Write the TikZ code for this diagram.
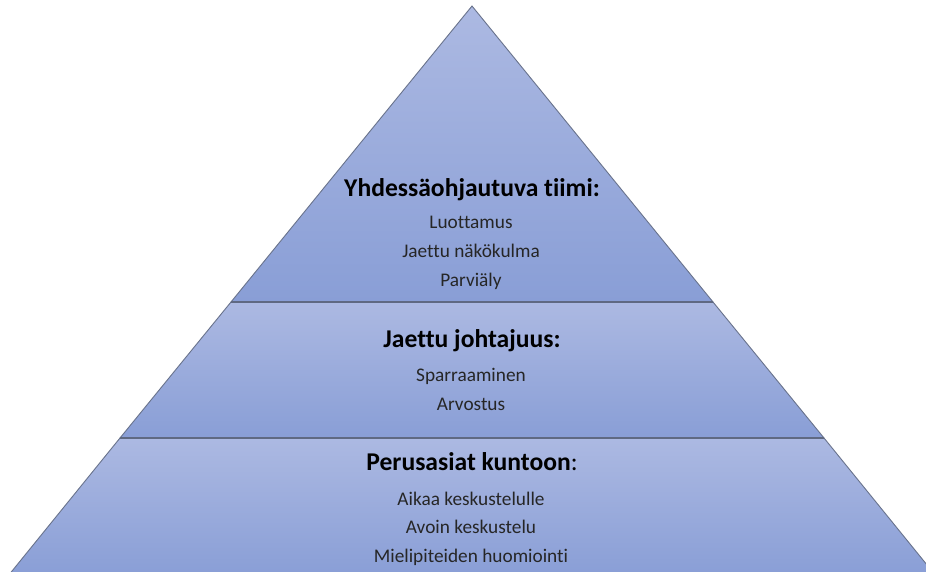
\documentclass[tikz,border=0pt]{standalone}
\usepackage{fontspec}
\setmainfont{Carlito}[Ligatures={NoCommon}]
\begin{document}
\begin{tikzpicture}[x=1pt,y=-1pt,
  layer/.style={top color=layertop,bottom color=layerbot,draw=edgecol,line width=0.9pt},
  divider/.style={draw=divcol,line width=1.4pt},
  heading/.style={anchor=base,font=\fontsize{25.6}{30}\selectfont\bfseries,text=black},
  item/.style={anchor=base,font=\fontsize{19.3}{23}\selectfont,text=black!85}]
\definecolor{layertop}{RGB}{172,185,226}
\definecolor{layerbot}{RGB}{137,158,214}
\definecolor{edgecol}{RGB}{105,115,140}
\definecolor{divcol}{RGB}{95,105,130}
\useasboundingbox (0,0) rectangle (926,571);
\fill[white] (0,0) rectangle (926,571);
% pyramid corners
\coordinate (apex) at (472,6);
\coordinate (l1) at (231,302); \coordinate (r1) at (713,302);
\coordinate (l2) at (120,438); \coordinate (r2) at (824,438);
\coordinate (l3) at (8,576);   \coordinate (r3) at (936,576);
\begin{scope}
\clip (0,0) rectangle (926,571);
\path[layer] (apex) -- (r1) -- (l1) -- cycle;
\path[layer] (l1) -- (r1) -- (r2) -- (l2) -- cycle;
\path[layer] (l2) -- (r2) -- (r3) -- (l3) -- cycle;
\draw[divider] (l1) -- (r1);
\draw[divider] (l2) -- (r2);
\end{scope}
% top layer
\node[heading] (t1) at (472,196) {Yhdessäohjautuva tiimi:};
\node[item] (t1a) at (471,228) {Luottamus};
\node[item] (t1b) at (471,257) {Jaettu näkökulma};
\node[item] (t1c) at (471,286) {Parviäly};
% middle layer
\node[heading] (t2) at (472,347) {Jaettu johtajuus:};
\node[item] (t2a) at (471,381) {Sparraaminen};
\node[item] (t2b) at (471,410) {Arvostus};
% bottom layer
\node[heading] (t3) at (472,470) {Perusasiat kuntoon\mdseries:};
\node[item] (t3a) at (471,505) {Aikaa keskustelulle};
\node[item] (t3b) at (471,533) {Avoin keskustelu};
\node[item] (t3c) at (471,562) {Mielipiteiden huomiointi};
\end{tikzpicture}
\end{document}
